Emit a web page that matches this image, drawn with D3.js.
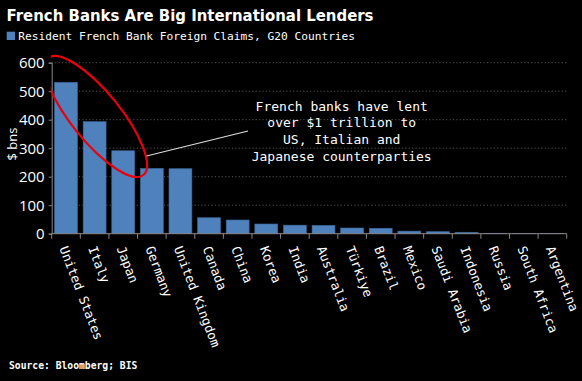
<!DOCTYPE html>
<html><head><meta charset="utf-8">
<script src="https://cdn.jsdelivr.net/npm/d3@7"></script>
<style>body{margin:0;background:#000;}svg{display:block;}</style>
</head><body>
<script>
const categories = ["United States","Italy","Japan","Germany","United Kingdom","Canada","China","Korea","India","Australia","Türkiye","Brazil","Mexico","Saudi Arabia","Indonesia","Russia","South Africa","Argentina"];
const claims = [531, 393, 291, 229, 228, 56, 48, 34, 30, 29, 20, 19, 9, 7, 5, 1.5, 1, 0.3];
const yTicks = [0, 100, 200, 300, 400, 500, 600];
const annotationLines = ["French banks have lent","over $1 trillion to","US, Italian and","Japanese counterparties"];

(function () {
const W = 582, H = 381;
const mono = "'DejaVu Sans Mono', 'Liberation Mono', monospace";
const svg = d3.select("body").append("svg").attr("width", W).attr("height", H).style("background", "#000");

const pLeft = 51.7, pRight = 566.7, pTop = 62.7, pBottom = 233.7;
const x = d3.scaleBand().domain(categories).range([pLeft, pRight]).paddingInner(0.2).paddingOuter(0.1);
const y = d3.scaleLinear().domain([0, 600]).range([pBottom, pTop]);

// Title
svg.append("text").attr("x", 6.5).attr("y", 20.7)
  .attr("font-family", "'DejaVu Sans', Verdana, sans-serif").attr("font-weight", "bold")
  .attr("font-size", 16).attr("fill", "#fff")
  .attr("textLength", 367).attr("lengthAdjust", "spacingAndGlyphs")
  .text("French Banks Are Big International Lenders");

// Legend
svg.append("rect").attr("x", 6.7).attr("y", 31.7).attr("width", 8.3).attr("height", 8.3).attr("fill", "#4f81bd");
svg.append("text").attr("x", 18.3).attr("y", 40).attr("font-family", mono).attr("font-size", 11.2)
  .attr("fill", "#fff").text("Resident French Bank Foreign Claims, G20 Countries");

// Gridlines
svg.append("g").selectAll("line").data(yTicks.filter(d => d > 0)).join("line")
  .attr("x1", pLeft).attr("x2", pRight).attr("y1", d => y(d)).attr("y2", d => y(d))
  .attr("stroke", "#6a6a6a").attr("stroke-width", 0.8).attr("stroke-dasharray", "1.2,2.2");

// Bars
svg.append("g").selectAll("rect").data(categories).join("rect")
  .attr("x", d => x(d)).attr("width", x.bandwidth())
  .attr("y", (d, i) => y(claims[i])).attr("height", (d, i) => pBottom - y(claims[i]))
  .attr("fill", "#4f81bd").attr("stroke", "#3d6a9e").attr("stroke-width", 0.6);

// Y axis
const yAxis = svg.append("g").attr("transform", `translate(${pLeft},0)`)
  .call(d3.axisLeft(y).tickValues(yTicks).tickSize(3).tickPadding(4));
yAxis.select(".domain").attr("stroke", "#888");
yAxis.selectAll(".tick line").attr("stroke", "#888");
yAxis.selectAll(".tick text").attr("fill", "#fff").attr("font-size", 15)
  .attr("font-family", "'Open Sans', 'Noto Sans', sans-serif");

// X axis baseline with ticks at band boundaries
const step = x.step();
const bounds = d3.range(categories.length + 1).map(i => pLeft + i * step);
svg.append("line").attr("x1", pLeft).attr("x2", pRight).attr("y1", pBottom).attr("y2", pBottom).attr("stroke", "#888");
svg.append("g").selectAll("line").data(bounds).join("line")
  .attr("x1", d => d).attr("x2", d => d).attr("y1", pBottom).attr("y2", pBottom + 5).attr("stroke", "#888");

// X labels
svg.append("g").selectAll("text").data(categories).join("text")
  .attr("transform", d => `translate(${x(d) + x.bandwidth() / 2 - 2.5},${pBottom + 13}) rotate(69)`)
  .attr("dy", "0.35em").attr("font-family", mono).attr("font-size", 12.7).attr("fill", "#fff")
  .text(d => d);

// Y axis title
svg.append("text").attr("transform", `translate(17,144) rotate(-90)`)
  .attr("text-anchor", "middle").attr("font-family", "'Open Sans', 'Noto Sans', sans-serif")
  .attr("font-size", 13).attr("fill", "#fff").text("$ bns");

// Annotation ellipse (clipped to plot area)
svg.append("clipPath").attr("id", "plotclip").append("rect")
  .attr("x", pLeft - 1).attr("y", 0).attr("width", W).attr("height", H);
svg.append("g").attr("clip-path", "url(#plotclip)")
  .append("ellipse")
  .attr("transform", "translate(96,116.5) rotate(51)")
  .attr("rx", 75.3).attr("ry", 24.4).attr("fill", "none").attr("stroke", "#e8000b").attr("stroke-width", 2.2);

// Annotation connector
svg.append("line").attr("x1", 146.5).attr("y1", 156).attr("x2", 248).attr("y2", 131)
  .attr("stroke", "#ddd").attr("stroke-width", 1.1);

// Annotation text
svg.append("g").selectAll("text").data(annotationLines).join("text")
  .attr("x", 341.7).attr("y", (d, i) => 110.5 + i * 16.8).attr("text-anchor", "middle")
  .attr("font-family", mono).attr("font-size", 13).attr("fill", "#fff").text(d => d);

// Footer
svg.append("text").attr("x", 9).attr("y", 369).attr("font-family", mono).attr("font-weight", "bold")
  .attr("font-size", 9.7).attr("fill", "#fff").text("Source: Bloomberg; BIS");
})();
</script>
</body></html>
